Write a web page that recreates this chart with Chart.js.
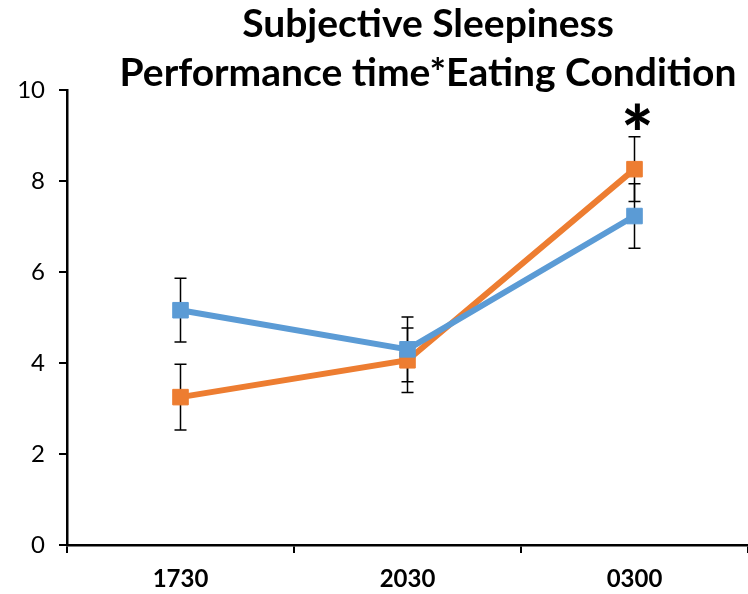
<!DOCTYPE html>
<html>
<head>
<meta charset="utf-8">
<script src="https://cdn.jsdelivr.net/npm/chart.js@4.4.1/dist/chart.umd.min.js"></script>
<style>
  html, body { margin: 0; padding: 0; background: #fff; }
  /* canvas is a bit wider than the view: chart.js keeps a right margin, the axis runs to the edge */
  #wrap { width: 748px; height: 594px; position: relative; overflow: hidden; }
</style>
</head>
<body>
<div id="wrap"><canvas id="chart" width="760" height="594"></canvas></div>
<script>
const categories = ["1730", "2030", "0300"];
const blueMeans = [5.16, 4.30, 7.23];
const blueErr = [0.70, 0.71, 0.71];
const orangeMeans = [3.25, 4.06, 8.26];
const orangeErr = [0.72, 0.71, 0.71];
const yTicks = [0, 2, 4, 6, 8, 10];
const titleLines = ["Subjective Sleepiness", "Performance time*Eating Condition"];
const starIndex = 2;
const starValue = 9.4;

const FONT = "Lato, 'Open Sans', sans-serif";

/* error bars under the lines, drawn through the scales */
const errorBars = {
  id: "errorBars",
  beforeDatasetsDraw(chart) {
    const { ctx, scales } = chart;
    const x = scales.x, y = scales.y;
    const sets = [[blueMeans, blueErr], [orangeMeans, orangeErr]];
    ctx.save();
    ctx.strokeStyle = "#000";
    ctx.lineWidth = 1.5;
    sets.forEach(([means, errs]) => {
      means.forEach((m, i) => {
        const px = x.getPixelForValue(i);
        const top = y.getPixelForValue(m + errs[i]);
        const bot = y.getPixelForValue(m - errs[i]);
        ctx.beginPath();
        ctx.moveTo(px, top);
        ctx.lineTo(px, bot);
        ctx.moveTo(px - 6, top);
        ctx.lineTo(px + 6, top);
        ctx.moveTo(px - 6, bot);
        ctx.lineTo(px + 6, bot);
        ctx.stroke();
      });
    });
    ctx.restore();
  },
};

/* two-line title and the significance star */
const labels = {
  id: "labels",
  afterDraw(chart) {
    const { ctx, scales } = chart;
    ctx.save();
    ctx.fillStyle = "#000";
    ctx.textAlign = "center";
    ctx.textBaseline = "alphabetic";
    ctx.font = `bold 39px ${FONT}`;
    ctx.fillText(titleLines[0], 428, 37);
    ctx.fillText(titleLines[1], 428, 86);
    ctx.font = `900 76px ${FONT}`;
    ctx.textBaseline = "middle";
    ctx.fillText("*", scales.x.getPixelForValue(starIndex) + 3, scales.y.getPixelForValue(starValue) + 20);
    ctx.restore();
  },
};

new Chart(document.getElementById("chart"), {
  type: "line",
  data: {
    labels: categories,
    datasets: [
      {
        label: "Blue",
        data: blueMeans,
        borderColor: "#5B9BD5",
        backgroundColor: "#5B9BD5",
        borderWidth: 6,
        pointStyle: "rect",
        pointRadius: 11,
        pointBorderWidth: 1,
        pointHoverRadius: 11,
        tension: 0,
        order: 1,
      },
      {
        label: "Orange",
        data: orangeMeans,
        borderColor: "#ED7D31",
        backgroundColor: "#ED7D31",
        borderWidth: 6,
        pointStyle: "rect",
        pointRadius: 11,
        pointBorderWidth: 1,
        pointHoverRadius: 11,
        tension: 0,
        order: 2,
      },
    ],
  },
  options: {
    responsive: false,
    animation: false,
    layout: { padding: { top: 90, right: 0, left: 0, bottom: 0 } },
    plugins: {
      legend: { display: false },
      title: { display: false },
      tooltip: { enabled: false },
    },
    scales: {
      x: {
        offset: true,
        grid: {
          offset: true,
          drawOnChartArea: false,
          drawTicks: true,
          tickLength: 8,
          color: "#000",
          lineWidth: 2,
        },
        border: { color: "#000", width: 2.5 },
        ticks: {
          color: "#000",
          font: { family: FONT, size: 24, weight: "bold" },
          padding: 12,
          maxRotation: 0,
        },
        afterFit(scale) { scale.height = 49; },
      },
      y: {
        min: 0,
        max: 10,
        afterBuildTicks(scale) { scale.ticks = yTicks.map((v) => ({ value: v })); },
        grid: {
          drawOnChartArea: false,
          drawTicks: true,
          tickLength: 8,
          color: "#000",
          lineWidth: 2,
        },
        border: { color: "#000", width: 2.5 },
        ticks: {
          color: "#000",
          font: { family: FONT, size: 24 },
          padding: 14,
        },
        afterFit(scale) { scale.width = 67; },
      },
    },
  },
  plugins: [errorBars, labels],
});
</script>
</body>
</html>
